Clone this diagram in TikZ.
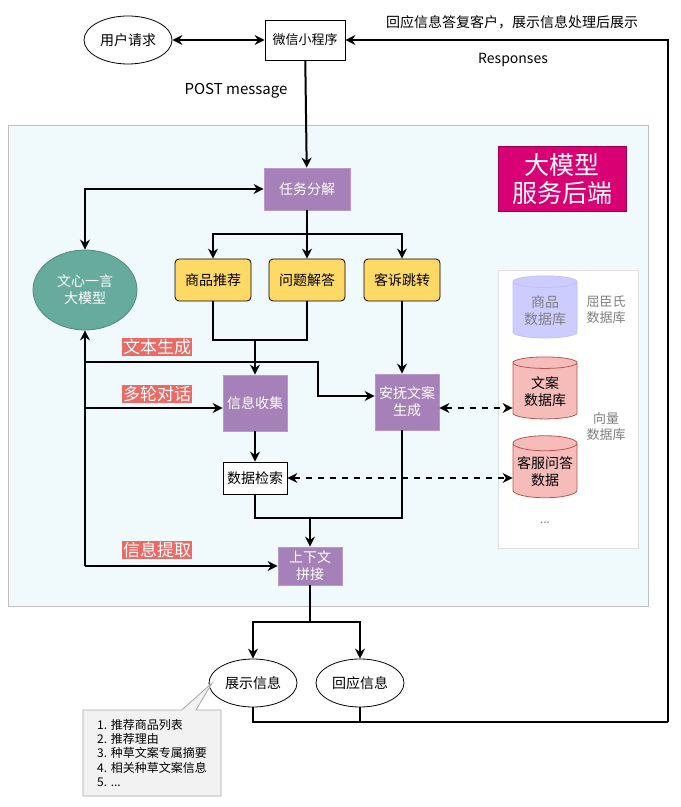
\documentclass[tikz,border=0pt]{standalone}
\usepackage{fontspec}
\setmainfont{Noto Sans CJK SC}
\usetikzlibrary{shapes.geometric,shapes.callouts,arrows.meta}
\definecolor{purp}{HTML}{A680B8}
\definecolor{yel}{HTML}{FFD966}
\definecolor{teal2}{HTML}{67AB9F}
\definecolor{mag}{HTML}{D80073}
\definecolor{redl}{HTML}{EA6B66}
\definecolor{bgc}{HTML}{F0FAFD}
\tikzset{
  flow/.style={line width=1pt,-{Stealth[length=5pt,width=5pt]}},
  both/.style={line width=1pt,{Stealth[length=5pt,width=5pt]}-{Stealth[length=5pt,width=5pt]}},
  dblink/.style={both,dash pattern=on 3pt off 3pt},
  proc/.style={fill=purp,draw=purp!80,text=white,font=\fontsize{7}{8.5}\selectfont,align=center,minimum width=32pt,minimum height=28pt,inner sep=1pt},
  task/.style={fill=yel,draw=black,rounded corners=2pt,font=\fontsize{7}{8.5}\selectfont,minimum width=38pt,minimum height=21pt,inner sep=1pt},
  oval/.style={ellipse,draw,font=\fontsize{7}{8.5}\selectfont,minimum width=44pt,minimum height=24pt,inner sep=0pt},
  tag/.style={fill=redl,text=white,font=\fontsize{8.5}{9}\selectfont,inner sep=0.5pt},
  db/.style={cylinder,shape border rotate=90,aspect=0.25,draw,align=center,font=\fontsize{7}{8.5}\selectfont,minimum width=32pt,minimum height=31pt,inner sep=1pt},
}
\begin{document}
\begin{tikzpicture}[x=0.5pt,y=-0.5pt]
\useasboundingbox (0,0) rectangle (680,807);
% backend area
\draw[gray!50,fill=bgc] (8,125) rectangle (648,606);
\draw[gray!25,fill=white] (498,270) rectangle (638,548);
\node[fill=mag,draw=mag!70!black,text=white,font=\fontsize{12.5}{14}\selectfont,align=center,minimum width=64pt,minimum height=31pt] (title) at (562,179) {大模型\\服务后端};

% top
\node[oval] (user) at (128,40) {用户请求};
\node[draw,fill=white,font=\fontsize{6.5}{8}\selectfont,minimum width=40pt,minimum height=20pt,inner sep=1pt] (wx) at (305,40) {微信小程序};
\node[font=\fontsize{7}{8.5}\selectfont] (resp1) at (512,22) {回应信息答复客户，展示信息处理后展示};
\node[font=\fontsize{7}{8.5}\selectfont] (resp2) at (513,60) {Responses};
\node[font=\fontsize{7.5}{9}\selectfont] (post) at (236,91) {POST message};

% nodes
\node[proc,minimum width=43pt,minimum height=21pt] (split) at (307,189) {任务分解};
\node[task] (rec) at (213,280) {商品推荐};
\node[task] (qa) at (307,280) {问题解答};
\node[task] (cmp) at (402,280) {客诉跳转};
\node[ellipse,fill=teal2,draw=teal2!80!black,text=white,align=center,font=\fontsize{7}{8.5}\selectfont,minimum width=52pt,minimum height=40pt] (llm) at (85,290) {文心一言\\大模型};
\node[proc] (collect) at (255,403) {信息收集};
\node[proc] (soothe) at (407,402) {安抚文案\\生成};
\node[draw,fill=white,font=\fontsize{7}{8.5}\selectfont,minimum width=32pt,minimum height=16pt,inner sep=1pt] (search) at (255,478) {数据检索};
\node[proc,minimum height=19pt] (concat) at (310,566) {上下文\\拼接};

% databases
\node[db,fill=blue!20,draw=blue!25,text=gray] (dbgoods) at (545,311) {商品\\数据库};
\node[db,fill=redl!45,draw=redl!80!black] (dbcopy) at (545,392) {文案\\数据库};
\node[db,fill=redl!45,draw=redl!80!black] (dbqa) at (545,472) {客服问答\\数据};
\node[gray,font=\fontsize{6}{7}\selectfont] (dots) at (545,523) {...};
\node[gray,align=center,font=\fontsize{6.5}{8}\selectfont] (wtc) at (606,310) {屈臣氏\\数据库};
\node[gray,align=center,font=\fontsize{6.5}{8}\selectfont] (vec) at (606,427) {向量\\数据库};

% tags
\node[tag] (t1) at (157,347) {文本生成};
\node[tag] (t2) at (157,394) {多轮对话};
\node[tag] (t3) at (157,550) {信息提取};

% outputs
\node[oval] (show) at (253,683) {展示信息};
\node[oval] (reply) at (360,683) {回应信息};
\node[rectangle callout,draw=gray!70,fill=gray!10,align=left,font=\fontsize{6}{7.2}\selectfont,minimum width=69pt,minimum height=43pt,inner sep=2pt,anchor=center,callout absolute pointer={(212,683)}] (note) at (152,753) {1. 推荐商品列表\\2. 推荐理由\\3. 种草文案专属摘要\\4. 相关种草文案信息\\5. ...};

% connectors
\draw[both] (user) -- (wx);
\draw[flow] (wx) -- (split);
\draw[both] (split.west) -| (llm.north);
\draw[line width=1pt] (split.south) -- (307,234);
\draw[flow] (307,234) -| (rec);
\draw[flow] (307,234) -- (qa);
\draw[flow] (307,234) -| (cmp);
\draw[line width=1pt] (rec.south) |- (255,340) -| (qa.south);
\draw[flow] (255,340) -- (collect);
\draw[flow] (cmp) -- (cmp |- soothe.north);
\draw[flow] (85,566) -- (llm.south);
\draw[flow] (85,362) -- (318,362) |- (soothe.west |- 396,396);
\draw[flow] (85,408) -- (collect.west |- 85,408);
\draw[flow] (85,566) -- (concat);
\draw[flow] (collect) -- (search);
\draw[dblink] (search) -- (dbqa.west |- search);
\draw[dblink] (soothe.east |- 408,408) -- (dbcopy.west |- 408,408);
\draw[line width=1pt] (search.south) |- (310,518) -| (soothe.south -| cmp);
\draw[flow] (310,518) -- (concat);
\draw[line width=1pt] (concat.south) -- (310,622);
\draw[flow] (310,622) -| (show);
\draw[flow] (310,622) -| (reply);
\draw[line width=1pt] (show.south) |- (668,722);
\draw[line width=1pt] (reply.south) -- (reply.south |- 668,722);
\draw[flow] (668,722) |- (wx.east);
\end{tikzpicture}
\end{document}
